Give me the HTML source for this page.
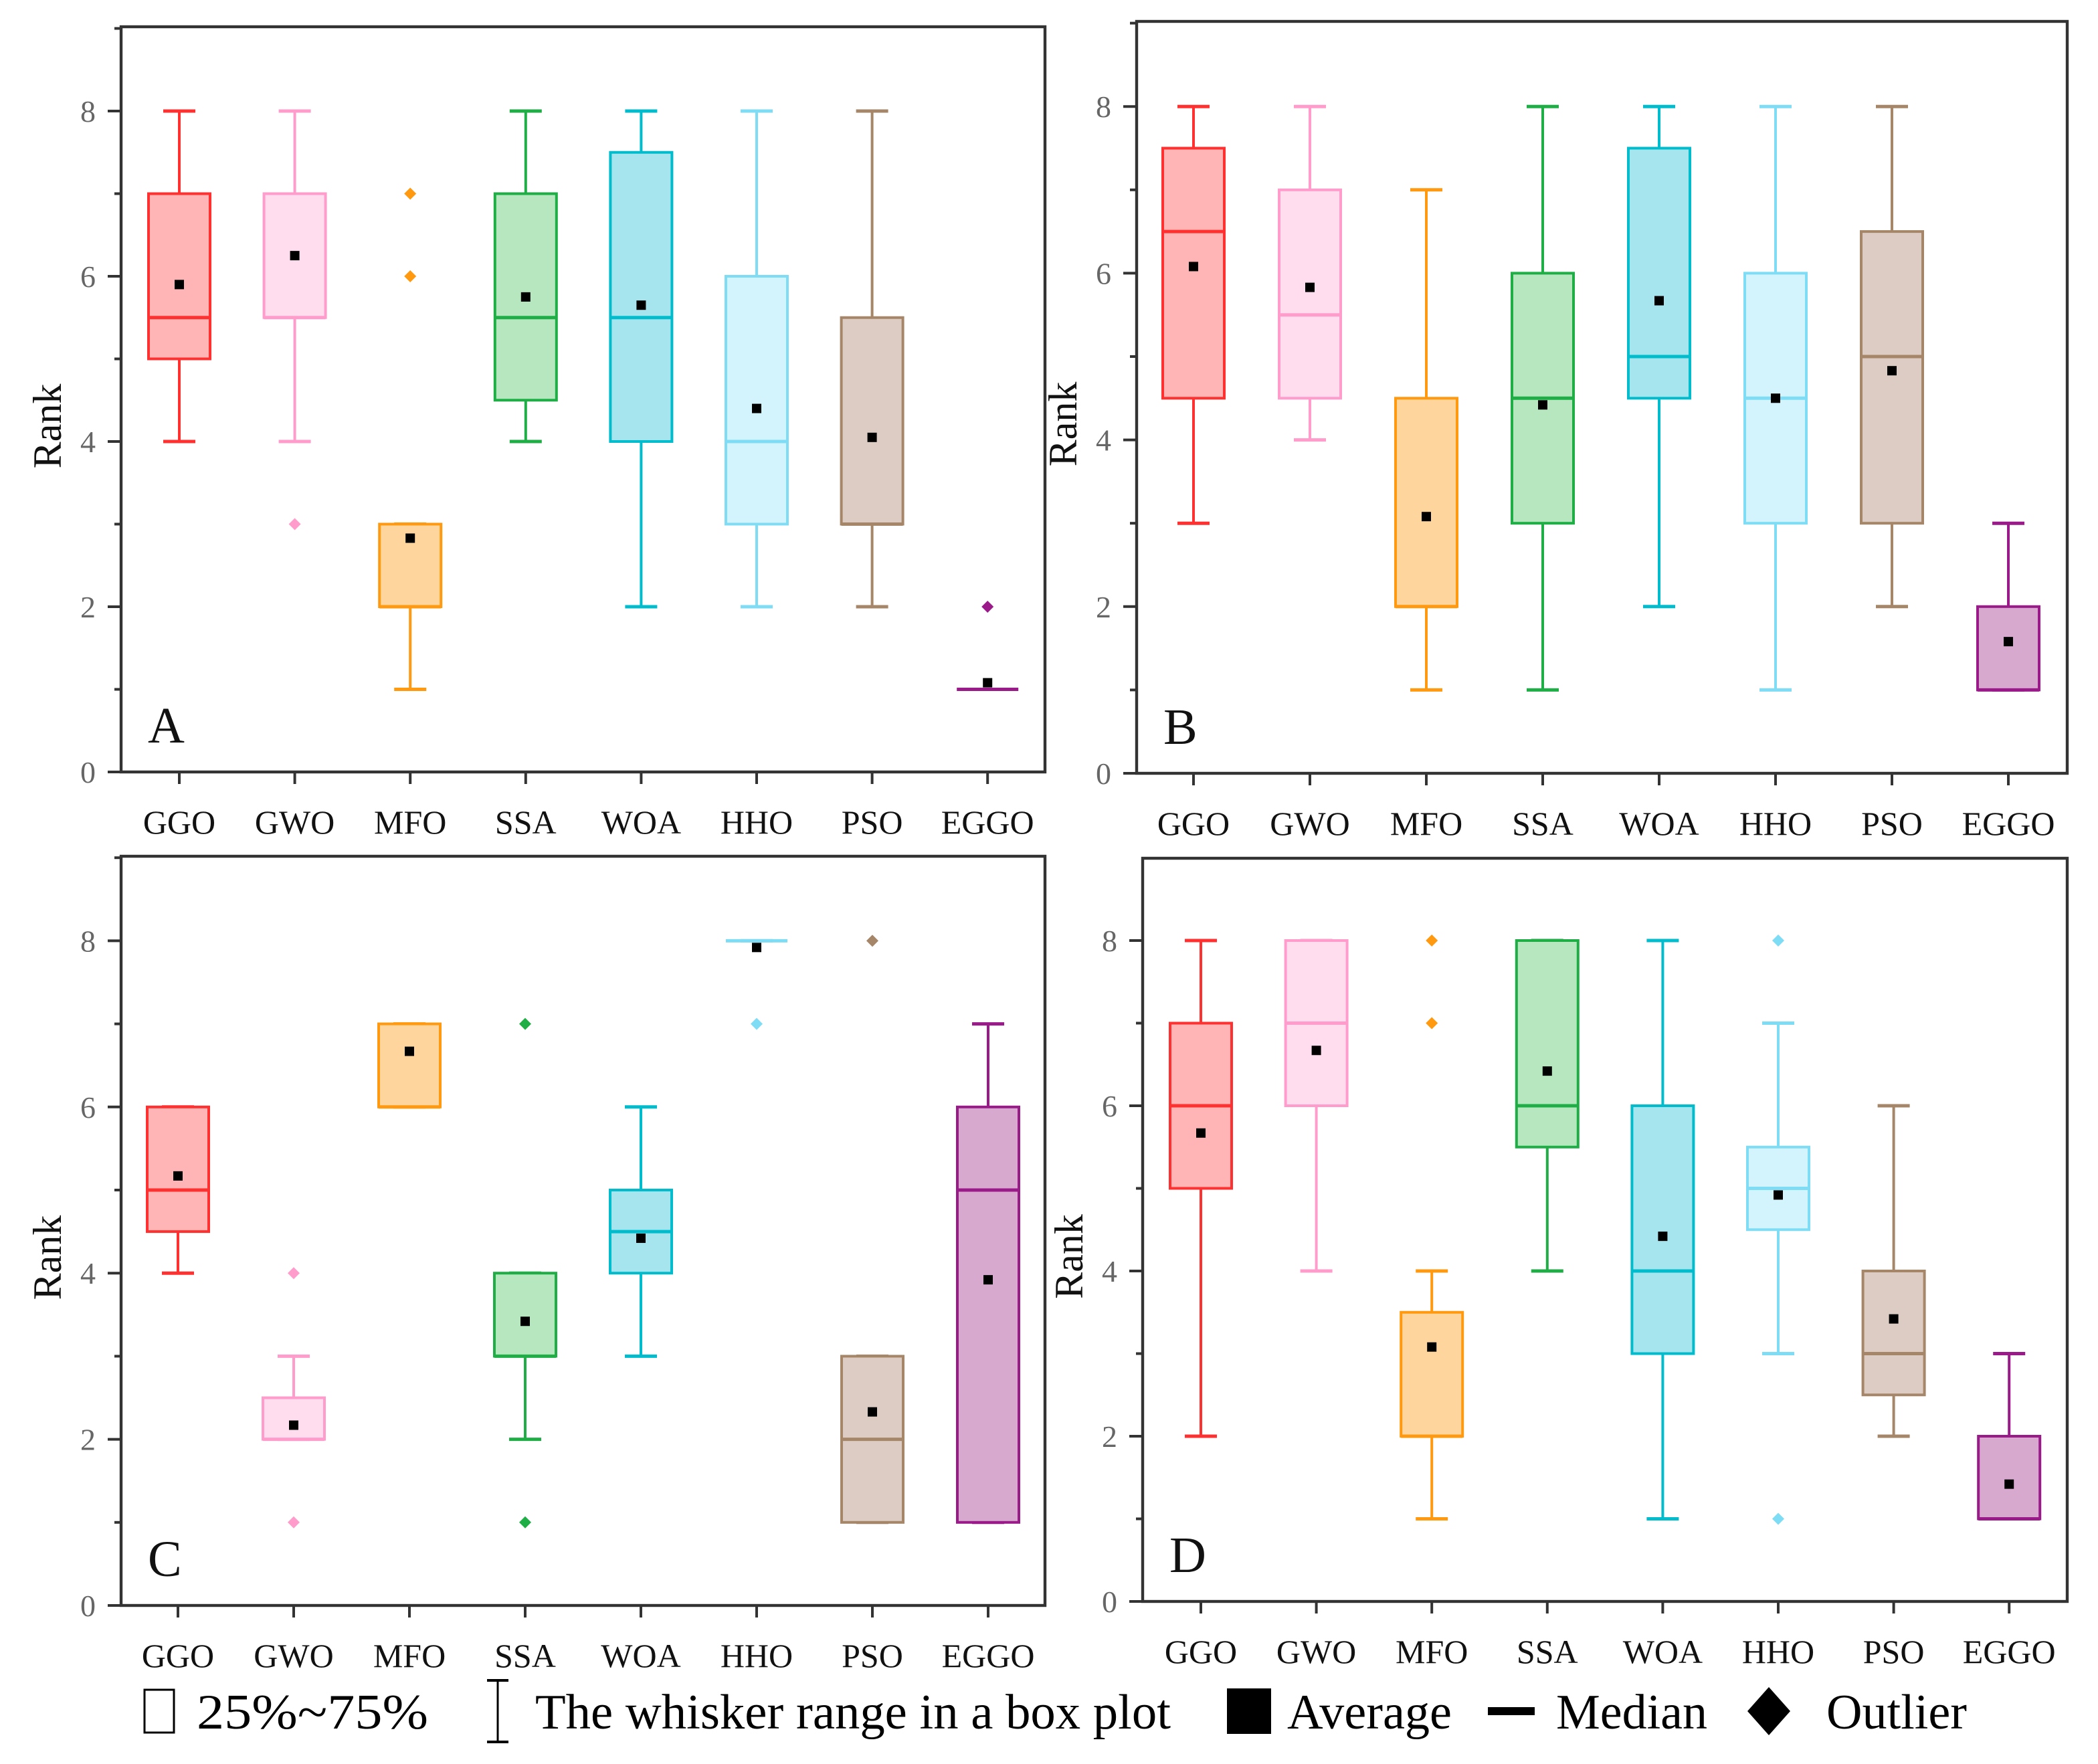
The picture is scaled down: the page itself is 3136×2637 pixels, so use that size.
<!DOCTYPE html>
<html><head><meta charset="utf-8">
<style>
html,body{margin:0;padding:0;background:#fff;}
svg{display:block;}
text{font-family:"Liberation Serif",serif;}
</style></head>
<body>
<svg id="chart" xmlns="http://www.w3.org/2000/svg" width="3136" height="2637" viewBox="0 0 1568 1318.5">
<rect x="0" y="0" width="1568" height="1318.5" fill="#fff"/>
<g id="panels"></g>
<g id="legend">
  <g>
    <rect x="108" y="1263" width="22" height="32" fill="#fff" stroke="#000" stroke-width="1.5"/>
    <text x="147" y="1292" font-size="37" textLength="173" lengthAdjust="spacingAndGlyphs">25%~75%</text>
  </g>
  <g>
    <line x1="372" y1="1256" x2="372" y2="1302" stroke="#000" stroke-width="1.5"/>
    <line x1="364" y1="1256" x2="380" y2="1256" stroke="#000" stroke-width="2"/>
    <line x1="364" y1="1302" x2="380" y2="1302" stroke="#000" stroke-width="2"/>
    <text x="400" y="1292" font-size="37" textLength="475" lengthAdjust="spacingAndGlyphs">The whisker range in a box plot</text>
  </g>
  <g>
    <rect x="917" y="1262" width="33" height="34" fill="#000"/>
    <text x="962" y="1292" font-size="37" textLength="123" lengthAdjust="spacingAndGlyphs">Average</text>
  </g>
  <g>
    <rect x="1112" y="1276" width="35" height="6" fill="#000"/>
    <text x="1163" y="1292" font-size="37" textLength="113" lengthAdjust="spacingAndGlyphs">Median</text>
  </g>
  <g>
    <polygon points="1322,1261 1338,1279 1322,1297 1306,1279" fill="#000"/>
    <text x="1365" y="1292" font-size="37" textLength="105" lengthAdjust="spacingAndGlyphs">Outlier</text>
  </g>
</g>
</svg>
<script>
const categories = ["GGO","GWO","MFO","SSA","WOA","HHO","PSO","EGGO"];
const yTicks = [0,2,4,6,8];
// stats per panel: [min, q1, median, q3, max]
const statsA = [[4,5,5.5,7,8],[4,5.5,5.5,7,8],[1,2,2,3,3],[4,4.5,5.5,7,8],[2,4,5.5,7.5,8],[2,3,4,6,8],[2,3,3,5.5,8],[1,1,1,1,1]];
const meansA = [5.9,6.25,2.83,5.75,5.65,4.4,4.05,1.08];
const outliersA = [[],[3],[7,6],[],[],[],[],[2]];
const statsB = [[3,4.5,6.5,7.5,8],[4,4.5,5.5,7,8],[1,2,2,4.5,7],[1,3,4.5,6,8],[2,4.5,5,7.5,8],[1,3,4.5,6,8],[2,3,5,6.5,8],[1,1,1,2,3]];
const meansB = [6.08,5.83,3.08,4.42,5.67,4.5,4.83,1.58];
const outliersB = [[],[],[],[],[],[],[],[]];
const statsC = [[4,4.5,5,6,6],[2,2,2,2.5,3],[6,6,6,7,7],[2,3,3,4,4],[3,4,4.5,5,6],[8,8,8,8,8],[1,1,2,3,3],[1,1,5,6,7]];
const meansC = [5.17,2.17,6.67,3.42,4.42,7.92,2.33,3.92];
const outliersC = [[],[4,1],[],[7,1],[],[7],[8],[]];
const statsD = [[2,5,6,7,8],[4,6,7,8,8],[1,2,2,3.5,4],[4,5.5,6,8,8],[1,3,4,6,8],[3,4.5,5,5.5,7],[2,2.5,3,4,6],[1,1,1,2,3]];
const meansD = [5.67,6.67,3.08,6.42,4.42,4.92,3.42,1.42];
const outliersD = [[],[],[8,7],[],[],[8,1],[],[]];

const strokes = ["#ff3030","#ff9ccc","#ff9a10","#1fae45","#00bccc","#7fdcf5","#a58668","#9a1a8a"];
const fills = ["#ffb5b5","#ffdcee","#ffd59e","#b6e7bf","#a6e4ee","#d3f4fc","#ddccc3","#d8a9cf"];

const panels = [
 {id:"A",stats:statsA,means:meansA,outs:outliersA,L:90.5,R:781,T:20,B:577,y0:577,u:61.75,x0:134,dx:86.3},
 {id:"B",stats:statsB,means:meansB,outs:outliersB,L:849.5,R:1545,T:16,B:578,y0:578,u:62.3,x0:892,dx:87},
 {id:"C",stats:statsC,means:meansC,outs:outliersC,L:90.5,R:781,T:640,B:1200,y0:1200,u:62.1,x0:133,dx:86.5},
 {id:"D",stats:statsD,means:meansD,outs:outliersD,L:854,R:1545,T:641.5,B:1197,y0:1197,u:61.75,x0:897.5,dx:86.3}
];
const NS="http://www.w3.org/2000/svg";
const root=document.getElementById("panels");
function mk(tag,attrs,parent){const e=document.createElementNS(NS,tag);for(const k in attrs)e.setAttribute(k,attrs[k]);parent.appendChild(e);return e;}
panels.forEach(p=>{
  const y=v=>p.y0-v*p.u;
  const x=i=>p.x0+i*p.dx;
  const g=mk("g",{},root);
  
  
  const fr=mk("rect",{x:p.L,y:p.T,width:p.R-p.L,height:p.B-p.T,fill:"none",stroke:"#333",'stroke-width':2.2},g);
  
  
  for(let v=0;v<=9;v++){
    if(y(v)<p.T) break;
    const major=v%2===0;
    mk("line",{x1:p.L-(major?10:5),x2:p.L,y1:y(v),y2:y(v),stroke:"#333",'stroke-width':2},g);
  }
  yTicks.forEach(v=>{
    const t=mk("text",{x:p.L-19,y:y(v)+8,'font-size':23,fill:"#666",'text-anchor':"end"},g);
    t.textContent=v;
    
    
  });
  const yl=mk("text",{x:0,y:0,'font-size':30,fill:"#111",'text-anchor':"middle",transform:`translate(${p.L-45},${(p.T+p.B)/2+20}) rotate(-90)`},g);
  yl.textContent="Rank";
  
  
  const pl=mk("text",{x:p.L+20,y:p.B-22,'font-size':38,fill:"#111"},g);
  pl.textContent=p.id;
  
  
  categories.forEach((c,i)=>{
    const cx=x(i), s=p.stats[i], col=strokes[i], hw=23, cw=12;
    mk("line",{x1:cx,x2:cx,y1:p.B,y2:p.B+9,stroke:"#333",'stroke-width':2},g);
    const t=mk("text",{x:cx,y:p.B+46,'font-size':25,fill:"#111",'text-anchor':"middle"},g);
    t.textContent=c;
    
    
    const bg=mk("g",{},g);
    
    
    mk("line",{x1:cx,x2:cx,y1:y(s[0]),y2:y(s[1]),stroke:col,'stroke-width':2},bg);
    mk("line",{x1:cx,x2:cx,y1:y(s[3]),y2:y(s[4]),stroke:col,'stroke-width':2},bg);
    mk("line",{x1:cx-cw,x2:cx+cw,y1:y(s[0]),y2:y(s[0]),stroke:col,'stroke-width':2.5},bg);
    mk("line",{x1:cx-cw,x2:cx+cw,y1:y(s[4]),y2:y(s[4]),stroke:col,'stroke-width':2.5},bg);
    mk("rect",{x:cx-hw,y:y(s[3]),width:2*hw,height:Math.max(0,y(s[1])-y(s[3])),fill:fills[i],stroke:col,'stroke-width':2},bg);
    mk("line",{x1:cx-hw,x2:cx+hw,y1:y(s[2]),y2:y(s[2]),stroke:col,'stroke-width':2.5},bg);
    const m=mk("rect",{x:cx-3.5,y:y(p.means[i])-3.5,width:7,height:7,fill:"#000"},bg);
    
    
    p.outs[i].forEach(o=>{
      const oy=y(o);
      const d=mk("polygon",{points:`${cx},${oy-4.5} ${cx+4.5},${oy} ${cx},${oy+4.5} ${cx-4.5},${oy}`,fill:col},bg);
      
      
    });
  });
});
</script>
</body></html>
